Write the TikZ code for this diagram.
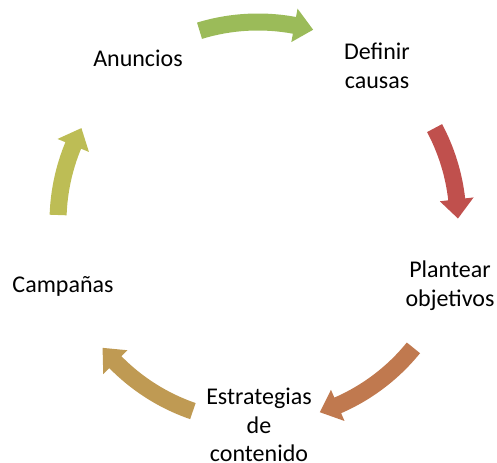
\documentclass[tikz,border=0pt]{standalone}
\usepackage{fontspec}
\setmainfont{Carlito}
\usetikzlibrary{positioning,calc}
\definecolor{stepgreen}{HTML}{9BBB59}
\definecolor{stepred}{HTML}{C0504D}
\definecolor{steporange}{HTML}{C0794F}
\definecolor{steptan}{HTML}{BF9A53}
\definecolor{stepolive}{HTML}{BDBD55}

% one curved arrow of the cycle: colour, start angle, tip angle
\newcommand{\cyclearrow}[3]{%
	\fill[#1] (#2:208.5) arc [start angle=#2, end angle=#3+5.5, radius=208.5]
		-- (#3+5.5:217) -- (#3:200) -- (#3+5.5:183) -- (#3+5.5:191.5)
		arc [start angle=#3+5.5, end angle=#2, radius=191.5] -- cycle;
}

\begin{document}
\begin{tikzpicture}[
x = 0.75pt, y = 0.75pt,
every node/.style = {
	font = \fontsize{18}{21.5}\selectfont
},
stepnode/.style = {
	align = center,
	inner sep = 0pt
}
]

\useasboundingbox (0,0) rectangle (497,463);

\node [stepnode] (causas) at (377,397) {Definir\\causas};
\node [stepnode] (objetivos) at (450,177) {Plantear\\objetivos};
\node [stepnode] (estrategias) at (259,38) {Estrategias\\de\\contenido};
\node [stepnode] (campanas) at (63,177) {Campañas};
\node [stepnode] (anuncios) at (138,405) {Anuncios};

\begin{scope}[shift={(258,241)}]
\cyclearrow{stepgreen}{107}{74}
\cyclearrow{stepred}{28}{1}
\cyclearrow{steporange}{-39}{-72}
\cyclearrow{steptan}{-109}{-141}
\cyclearrow{stepolive}{178}{152}
\end{scope}

\end{tikzpicture}
\end{document}
